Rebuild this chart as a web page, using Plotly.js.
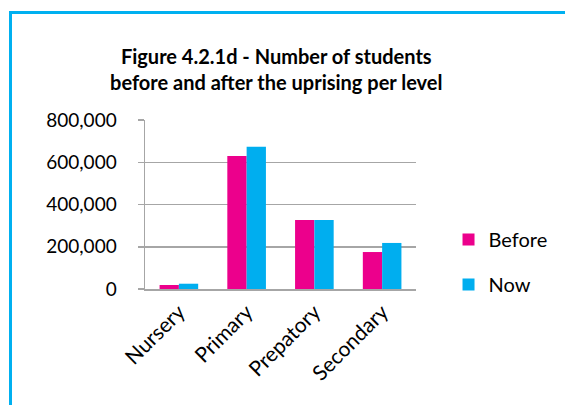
<!DOCTYPE html>
<html>
<head>
<meta charset="utf-8">
<script src="https://cdn.plot.ly/plotly-3.0.1.min.js"></script>
<style>
  html, body { margin: 0; padding: 0; background: #ffffff; }
  #wrap { position: relative; width: 565px; height: 405px; overflow: hidden; }
  #chart { width: 565px; height: 405px; }
  /* frame round the chart: top and left edges */
  #frame {
    position: absolute; left: 9px; top: 11px; width: 600px; height: 450px;
    border-top: 3px solid #00B0F0; border-left: 3px solid #00B0F0;
    pointer-events: none;
  }
</style>
</head>
<body>
<div id="wrap">
  <div id="chart"></div>
  <div id="frame"></div>
</div>
<script>
// Number of students per school level, before and after the uprising
const levels = ['Nursery', 'Primary', 'Prepatory', 'Secondary'];
const before = [19000, 630000, 327000, 175000];
const now = [25000, 673000, 327000, 218000];
const yTicks = [0, 200000, 400000, 600000, 800000];

const FONT = 'Lato, "Open Sans", sans-serif';
const GRAY = '#A6A6A6';

const traces = [
  { type: 'bar', name: 'Before', x: levels, y: before,
    marker: { color: '#EC008C' }, legendgroup: 'b' },
  { type: 'bar', name: 'Now', x: levels, y: now,
    marker: { color: '#00AEEF' }, legendgroup: 'n' }
];

const layout = {
  width: 565, height: 405,
  paper_bgcolor: '#ffffff', plot_bgcolor: '#ffffff',
  margin: { l: 145, r: 137, t: 120, b: 116 },
  font: { family: FONT, size: 19, color: '#000000' },
  title: {
    text: '<b>Figure 4.2.1d - Number of students<br>before and after the uprising per level</b>',
    font: { family: FONT, size: 20, color: '#000000' },
    xref: 'container', yref: 'container',
    x: 0.489, xanchor: 'center', y: 0.842, yanchor: 'middle'
  },
  bargap: 0.43, bargroupgap: 0, barmode: 'group',
  xaxis: {
    type: 'category', tickangle: -45,
    showline: true, linecolor: GRAY, linewidth: 1.5,
    ticks: '', showgrid: false,
    ticklabelshift: 0, ticklabelstandoff: 1,
    tickfont: { family: FONT, size: 21 }
  },
  yaxis: {
    range: [0, 800000], tickvals: yTicks, tickformat: ',d',
    showline: true, linecolor: GRAY, linewidth: 1.5,
    ticks: 'outside', ticklen: 6, tickcolor: GRAY, tickwidth: 1.5,
    ticklabelstandoff: 17,
    showgrid: true, gridcolor: GRAY, gridwidth: 1.5, zeroline: false,
    tickfont: { family: FONT, size: 19 }
  },
  showlegend: true,
  legend: {
    x: 1.12, xanchor: 'left', y: 0.16, yanchor: 'middle',
    traceorder: 'grouped', tracegroupgap: 16,
    font: { family: FONT, size: 20 }
  }
};

Plotly.newPlot('chart', traces, layout, { displayModeBar: false, staticPlot: true });
</script>
</body>
</html>
